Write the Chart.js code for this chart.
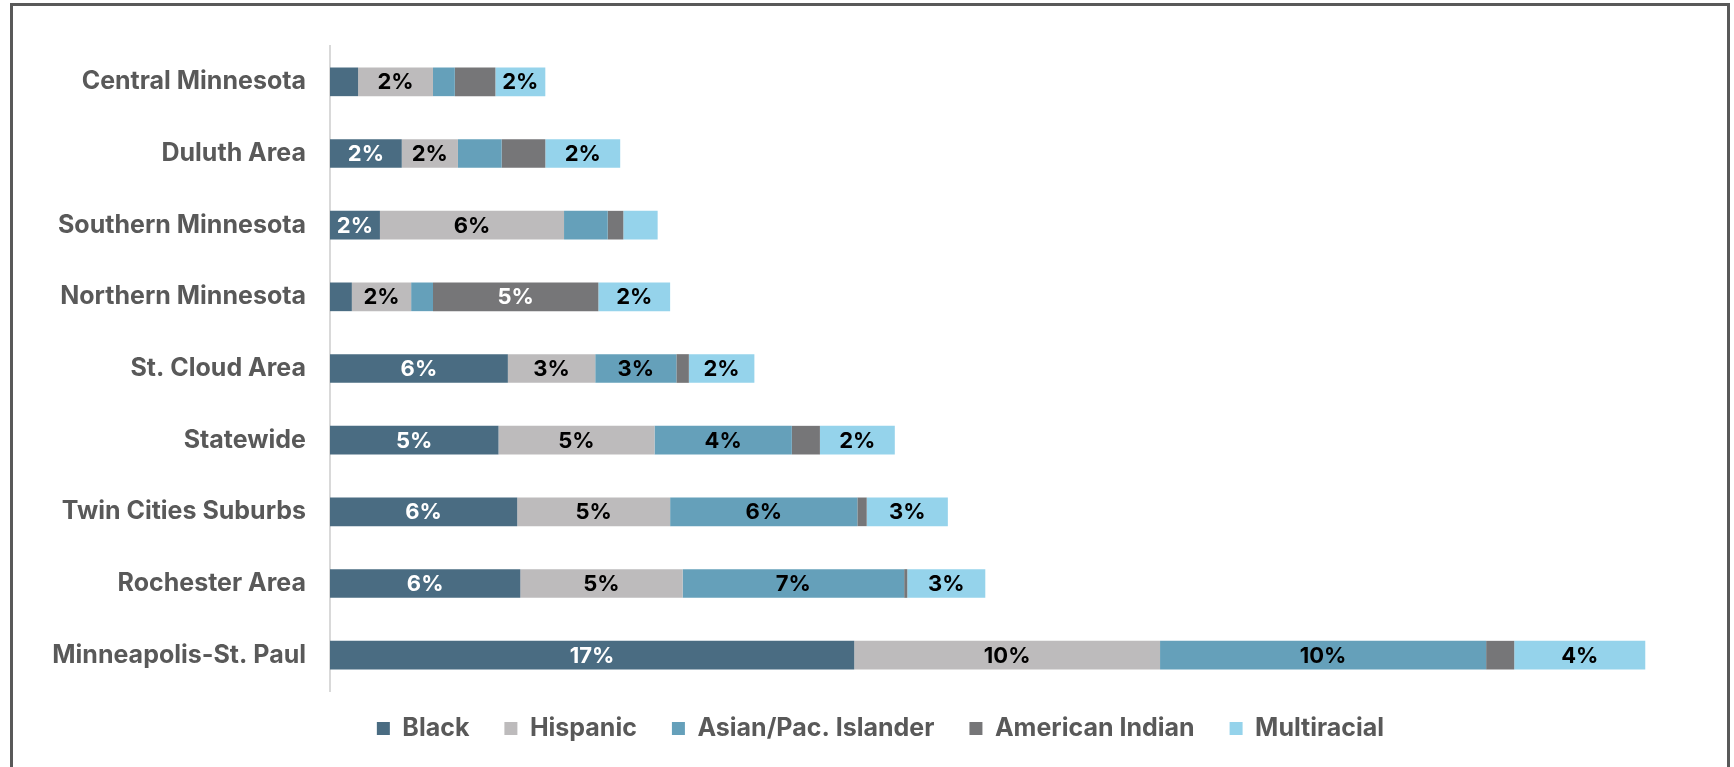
<!DOCTYPE html>
<html>
<head>
<meta charset="utf-8">
<script src="https://cdn.jsdelivr.net/npm/chart.js@4.4.1/dist/chart.umd.min.js"></script>
<style>
    html, body { margin: 0; padding: 0; background: #fff; overflow: hidden; }
    #wrap { position: absolute; left: 0; top: 0; width: 1734px; height: 767px; }
    #frame {
        position: absolute; left: 10px; top: 3px; width: 1720px; height: 900px;
        box-sizing: border-box; border: 3px solid #595959; pointer-events: none;
    }
</style>
</head>
<body>
<div id="wrap"><canvas id="raceChart"></canvas></div>
<div id="frame"></div>
<script>
// ─── Data (percent of population) ─────────────────────────────────────────
const regions = [
    'Central Minnesota', 'Duluth Area', 'Southern Minnesota', 'Northern Minnesota',
    'St. Cloud Area', 'Statewide', 'Twin Cities Suburbs', 'Rochester Area', 'Minneapolis-St. Paul'
];
const black      = [0.9, 2.3, 1.6, 0.7, 5.7, 5.4, 6.0, 6.1, 16.8];
const hispanic   = [2.4, 1.8, 5.9, 1.9, 2.8, 5.0, 4.9, 5.2, 9.8];
const asianPI    = [0.7, 1.4, 1.4, 0.7, 2.6, 4.4, 6.0, 7.1, 10.45];
const amIndian   = [1.3, 1.4, 0.5, 5.3, 0.4, 0.9, 0.3, 0.1, 0.9];
const multiracial = [1.6, 2.4, 1.1, 2.3, 2.1, 2.4, 2.6, 2.5, 4.2];

const FONT = "Inter, 'Open Sans', sans-serif";
const LABEL_MIN = 1.5;   // smaller segments carry no label

// ─── Segment labels drawn in the middle of each bar piece ──────────────────
const segmentLabels = {
    id: 'segmentLabels',
    afterDatasetsDraw(chart) {
        const { ctx } = chart;
        ctx.save();
        ctx.font = `700 22px ${FONT}`;
        ctx.textAlign = 'center';
        ctx.textBaseline = 'middle';
        chart.data.datasets.forEach((ds, di) => {
            const meta = chart.getDatasetMeta(di);
            meta.data.forEach((bar, i) => {
                const v = ds.data[i];
                if (v < LABEL_MIN) return;
                const x = (bar.x + bar.base) / 2;
                ctx.fillStyle = ds.labelColor;
                ctx.fillText(Math.round(v) + '%', x, bar.y + 1);
            });
        });
        ctx.restore();
    }
};

// Legend sits a little closer to the plot than Chart.js padding allows,
// and is centred on the frame rather than the canvas
const legendNudge = {
    id: 'legendNudge',
    afterLayout(chart) {
        const lg = chart.legend;
        lg.top -= 10;
        lg.bottom -= 10;
        lg.left += 29;
        lg.right += 29;
    }
};

function series(label, data, color, labelColor) {
    return {
        label, data,
        backgroundColor: color,
        borderWidth: 0,
        labelColor,
        barPercentage: 0.4,
        categoryPercentage: 1.0
    };
}

new Chart(document.getElementById('raceChart'), {
    type: 'bar',
    data: {
        labels: regions,
        datasets: [
            series('Black', black, '#4a6c82', '#ffffff'),
            series('Hispanic', hispanic, '#bdbbbc', '#000000'),
            series('Asian/Pac. Islander', asianPI, '#65a0ba', '#000000'),
            series('American Indian', amIndian, '#767678', '#ffffff'),
            series('Multiracial', multiracial, '#95d3eb', '#000000')
        ]
    },
    options: {
        indexAxis: 'y',
        responsive: true,
        maintainAspectRatio: false,
        animation: false,
        layout: { padding: { left: 0, right: 31, top: 46, bottom: 6 } },
        plugins: {
            tooltip: { enabled: false },
            legend: {
                position: 'bottom',
                labels: {
                    boxWidth: 13,
                    boxHeight: 13,
                    padding: 35,
                    color: '#595959',
                    font: { family: FONT, size: 25, weight: '700' }
                }
            }
        },
        scales: {
            x: {
                stacked: true,
                min: 0,
                max: 44,
                display: false
            },
            y: {
                stacked: true,
                grid: { display: false, drawTicks: false },
                border: { display: true, color: '#d9d9d9', width: 2 },
                ticks: {
                    padding: 24,
                    color: '#595959',
                    font: { family: FONT, size: 25, weight: '700' }
                },
                afterFit(scale) { scale.width = 330; }
            }
        }
    },
    plugins: [segmentLabels, legendNudge]
});
</script>
</body>
</html>
